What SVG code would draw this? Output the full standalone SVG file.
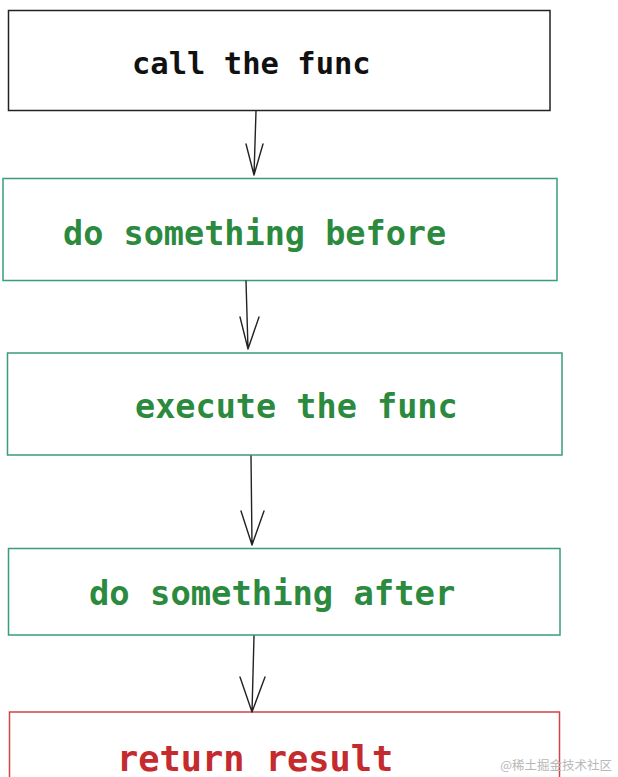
<svg xmlns="http://www.w3.org/2000/svg" width="618" height="777" viewBox="0 0 618 777">
<style>
.box{fill:#fff;stroke-width:1.5}
.k{stroke:#222}
.g{stroke:#3a9c78}
.r{stroke:#d04545}
.t{font-family:"DejaVu Sans Mono","Liberation Mono",monospace;font-weight:bold}
.tk{fill:#111}
.tg{fill:#2b8a3e}
.tr{fill:#c42a2e}
.c{fill:none;stroke:#222;stroke-width:1.4;stroke-linecap:round;stroke-linejoin:round}
</style>
<rect width="618" height="777" fill="#fff"/>
<g id="n1"><rect class="box k" x="8.5" y="10.5" width="541.5" height="100"/><text class="t tk" x="132" y="74" font-size="30.5">call the func</text></g>
<g id="n2"><rect class="box g" x="3" y="178.5" width="554" height="102"/><text class="t tg" x="63" y="245" font-size="33.5">do something before</text></g>
<g id="n3"><rect class="box g" x="7.5" y="353" width="554.5" height="102"/><text class="t tg" x="135" y="418" font-size="33.5">execute the func</text></g>
<g id="n4"><rect class="box g" x="8.5" y="548.5" width="551.5" height="86.5"/><text class="t tg" x="89" y="605" font-size="33.8">do something after</text></g>
<g id="n5"><rect class="box r" x="9.5" y="712" width="550" height="80"/><text class="t tr" x="117" y="771" font-size="35.3">return result</text></g>
<g id="connectors">
<path class="c" d="M256,111 L254,175 M246,144 L254,175 L263,144"/>
<path class="c" d="M246,281 L248,349 M240,317 L248,349 L259,317"/>
<path class="c" d="M251,456 L252,545 M241,511 L252,545 L264,511"/>
<path class="c" d="M254,636 L252,712 M240,677 L252,712 L265,677"/>
</g>
<text x="612" y="770" text-anchor="end" font-family="'Noto Sans CJK SC','Liberation Sans',sans-serif" font-size="12.5" fill="#b8b8b8">@稀土掘金技术社区</text>
</svg>
